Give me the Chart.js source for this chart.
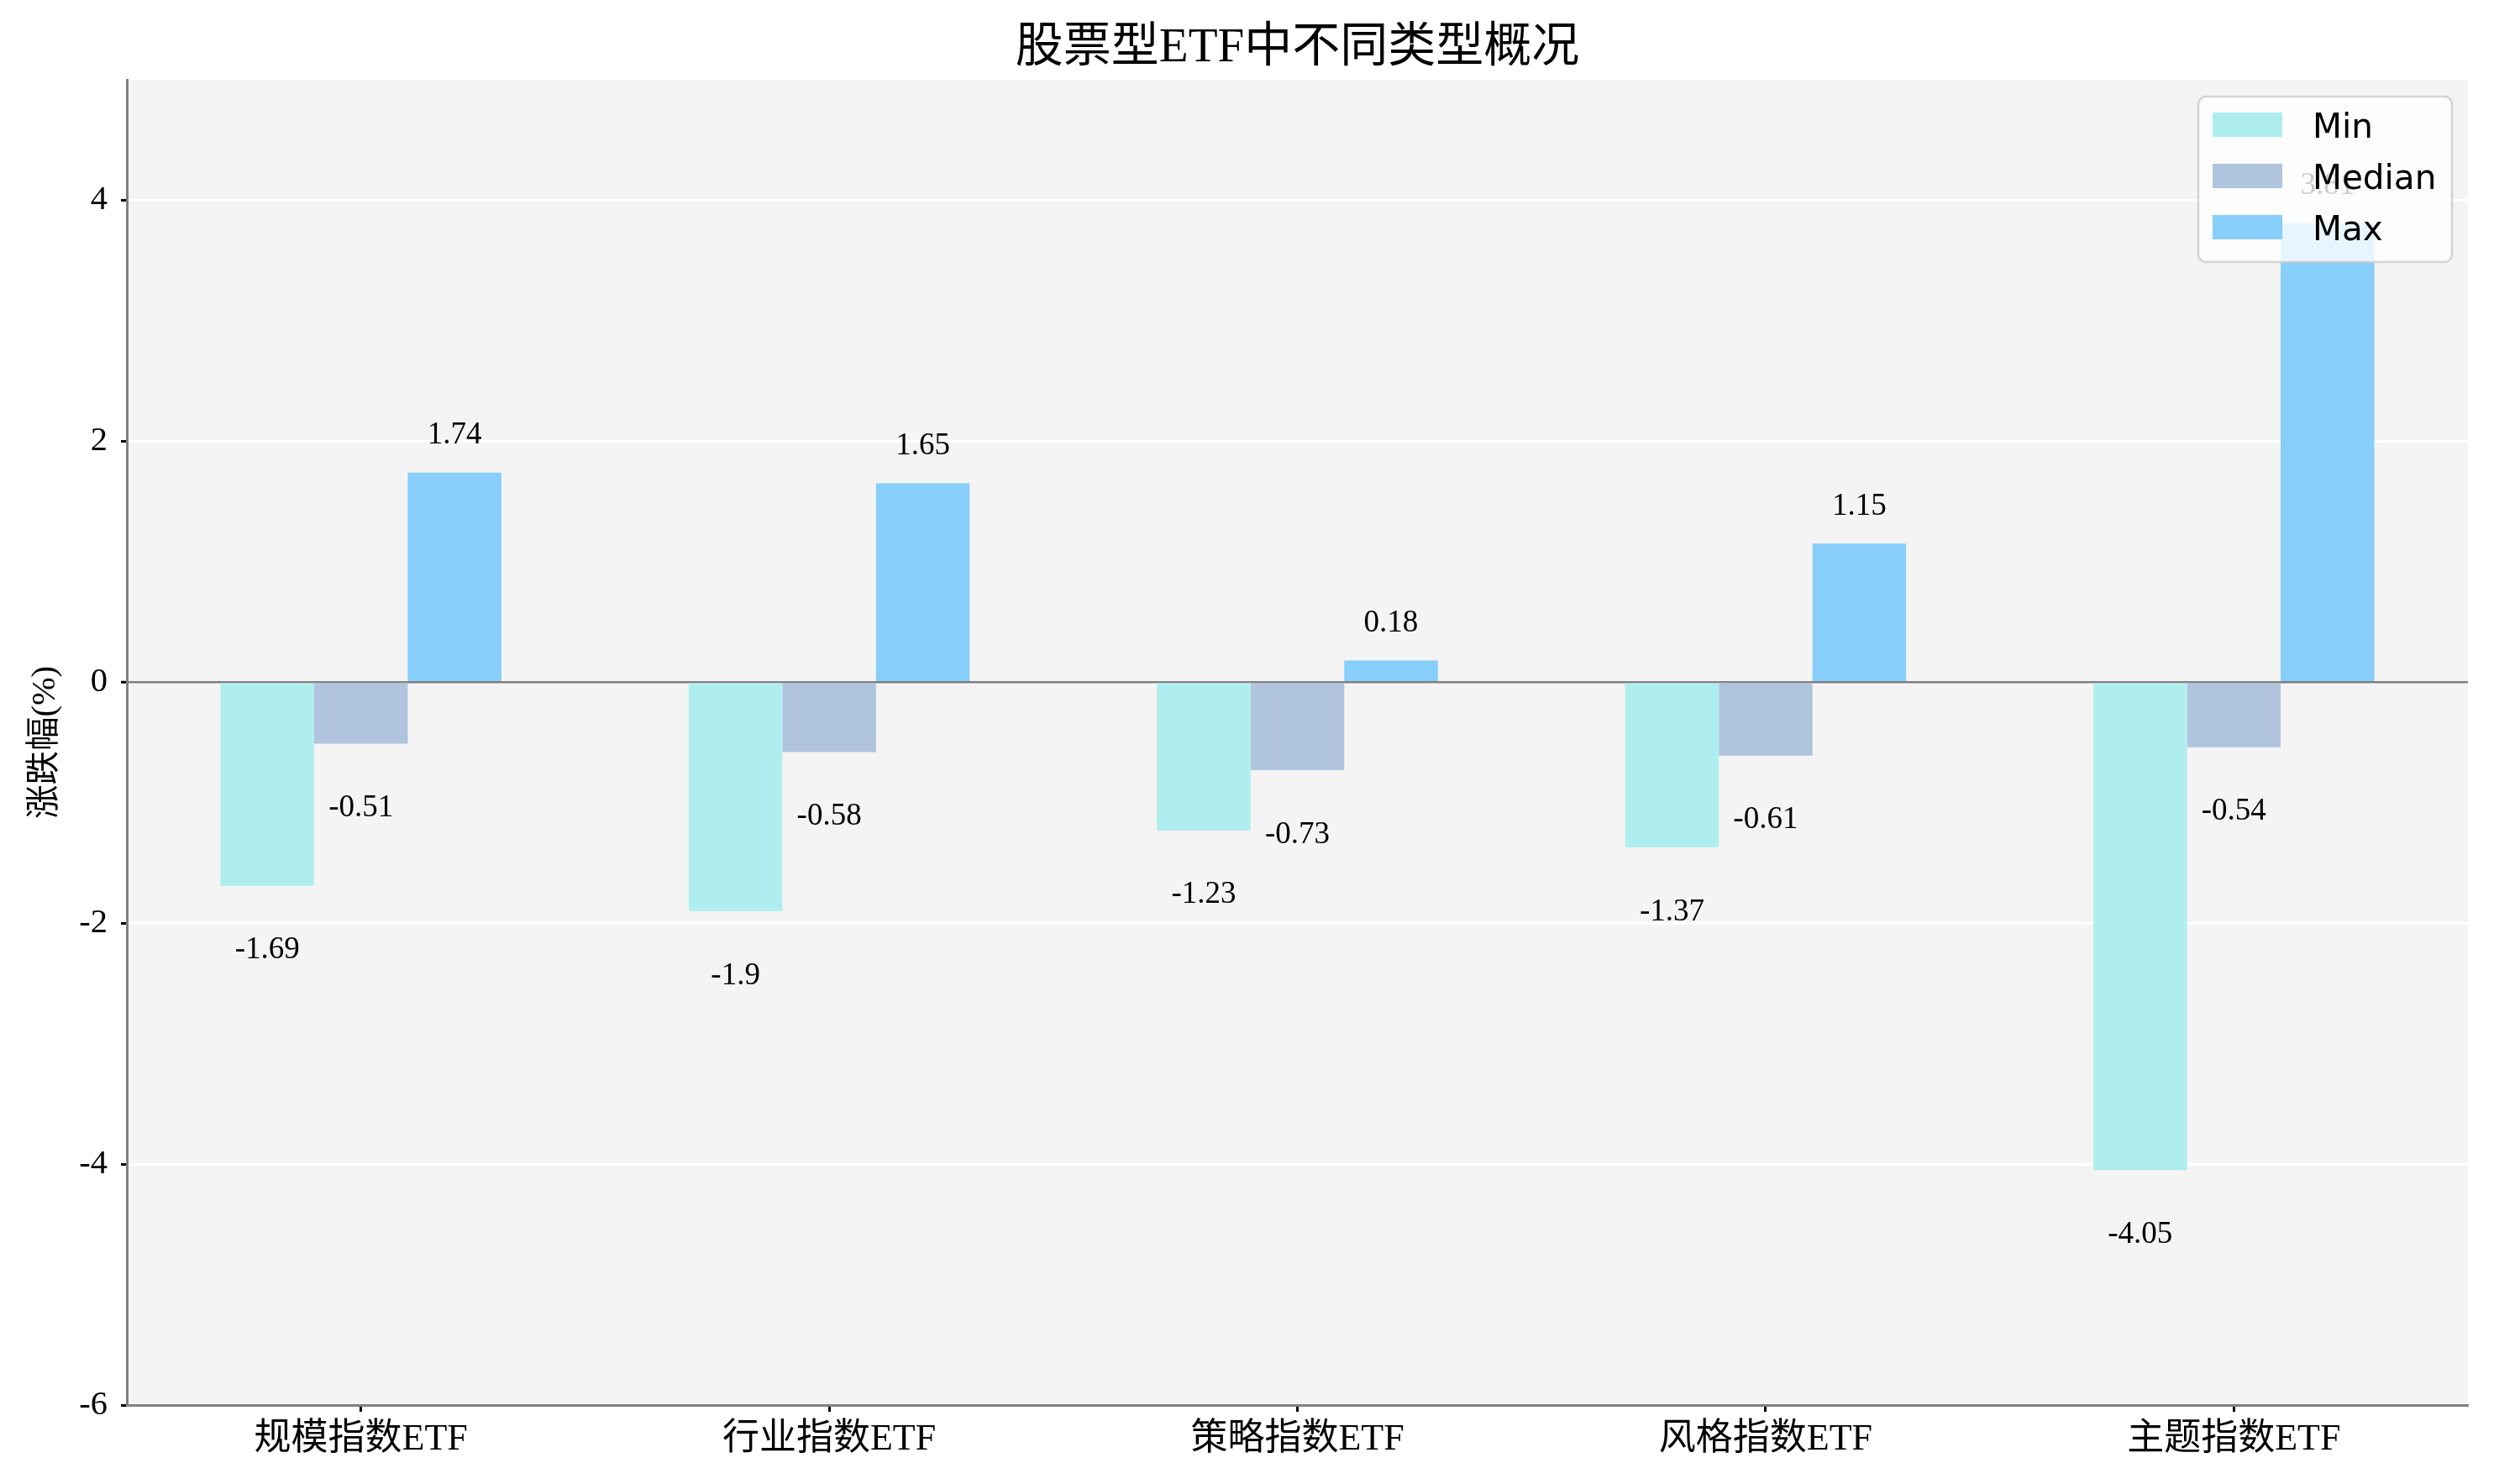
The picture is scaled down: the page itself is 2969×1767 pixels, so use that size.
<!DOCTYPE html>
<html><head><meta charset="utf-8">
<script src="https://cdn.jsdelivr.net/npm/chart.js@4.4.1/dist/chart.umd.min.js"></script>
<style>html,body{margin:0;padding:0;background:#fff;} canvas{display:block;}</style>
</head><body>
<canvas id="c" width="2969" height="1767" style="width:2969px;height:1767px"></canvas>
<script>
const categories = ['规模指数ETF', '行业指数ETF', '策略指数ETF', '风格指数ETF', '主题指数ETF'];
const minValues = [-1.69, -1.9, -1.23, -1.37, -4.05];
const medianValues = [-0.51, -0.58, -0.73, -0.61, -0.54];
const maxValues = [1.74, 1.65, 0.18, 1.15, 3.81];
const seriesNames = ['Min', 'Median', 'Max'];
const yTicks = [-6, -4, -2, 0, 2, 4];
const yMin = -6, yMax = 5;
const titleText = '股票型ETF中不同类型概况';
const yAxisTitle = '涨跌幅(%)';

const SERIF = "'Liberation Serif', 'Noto Sans CJK SC', serif";
const SANS = "'DejaVu Sans', sans-serif";
const colors = ['#AFEEEE', '#B0C4DE', '#87CEFA'];

Chart.defaults.color = '#000';

const bgPlugin = {
  id: 'bg',
  beforeDraw(chart) {
    const {ctx, chartArea: a} = chart;
    ctx.save();
    ctx.fillStyle = '#f4f4f4';
    ctx.fillRect(a.left, a.top, a.right - a.left, a.bottom - a.top);
    ctx.restore();
  }
};

const labelPlugin = {
  id: 'vlabels',
  afterDatasetsDraw(chart) {
    const ctx = chart.ctx;
    ctx.save();
    ctx.font = '37px ' + SERIF;
    ctx.fillStyle = '#000';
    ctx.textAlign = 'center';
    ctx.textBaseline = 'middle';
    chart.data.datasets.forEach((ds, i) => {
      const meta = chart.getDatasetMeta(i);
      meta.data.forEach((bar, j) => {
        const v = ds.data[j];
        ctx.fillText(String(v), bar.x, v >= 0 ? bar.y - 44 : bar.y + 77);
      });
    });
    ctx.restore();
  }
};

const legendPlugin = {
  id: 'boxLegend',
  afterDraw(chart) {
    const ctx = chart.ctx;
    const x0 = 2617, y0 = 115, w = 302, h = 197, r = 9;
    ctx.save();
    ctx.beginPath();
    ctx.roundRect(x0, y0, w, h, r);
    ctx.fillStyle = 'rgba(255,255,255,0.8)';
    ctx.fill();
    ctx.lineWidth = 2.7;
    ctx.strokeStyle = 'rgba(204,204,204,0.8)';
    ctx.stroke();
    ctx.font = '40.5px ' + SANS;
    ctx.textAlign = 'left';
    ctx.textBaseline = 'middle';
    chart.data.datasets.forEach((ds, i) => {
      const py = 134 + i * 61;
      ctx.fillStyle = ds.backgroundColor;
      ctx.fillRect(2634, py, 83, 29);
      ctx.fillStyle = '#000';
      ctx.fillText(ds.label, 2753, py + 19);
    });
    ctx.restore();
  }
};

new Chart(document.getElementById('c'), {
  type: 'bar',
  data: {
    labels: categories,
    datasets: [
      {label: seriesNames[0], data: minValues, backgroundColor: colors[0]},
      {label: seriesNames[1], data: medianValues, backgroundColor: colors[1]},
      {label: seriesNames[2], data: maxValues, backgroundColor: colors[2]}
    ]
  },
  options: {
    responsive: false,
    devicePixelRatio: 1,
    animation: false,
    layout: {padding: {top: 0, right: 31, bottom: 0, left: 0}},
    datasets: {bar: {barPercentage: 1, categoryPercentage: 0.6, borderWidth: 0}},
    plugins: {
      legend: {display: false},
      tooltip: {enabled: false},
      title: {
        display: true, text: titleText, fullSize: false,
        font: {family: SERIF, size: 57, weight: 'normal', lineHeight: 1.2},
        color: '#000',
        padding: {top: 24, bottom: 2.6}
      }
    },
    scales: {
      x: {
        afterFit: s => { s.height = 94; },
        grid: {display: true, drawOnChartArea: false, offset: false, drawTicks: true,
               tickLength: 8, tickColor: '#000', tickWidth: 3},
        border: {display: true, color: '#808080', width: 3},
        ticks: {font: {family: SERIF, size: 44}, color: '#000', padding: 7,
                maxRotation: 0, autoSkip: false}
      },
      y: {
        min: yMin, max: yMax,
        afterFit: s => { s.width = 151; },
        afterBuildTicks: s => { s.ticks = yTicks.map(v => ({value: v})); },
        grid: {
          color: c => (c.tick && c.tick.value === 0) ? '#808080' :
                      (c.tick && c.tick.value === yMin) ? 'rgba(0,0,0,0)' : '#ffffff',
          lineWidth: c => (c.tick && c.tick.value === 0) ? 2.5 : 3,
          tickColor: '#000', tickLength: 7, tickWidth: 3
        },
        border: {display: true, color: '#808080', width: 3},
        ticks: {font: {family: SERIF, size: 40.5}, color: '#000', padding: 16},
        title: {display: true, text: yAxisTitle, font: {family: SERIF, size: 40.5, lineHeight: 1.2},
                color: '#000', padding: {top: 30, bottom: 0}}
      }
    }
  },
  plugins: [bgPlugin, labelPlugin, legendPlugin]
});
</script>
</body></html>
